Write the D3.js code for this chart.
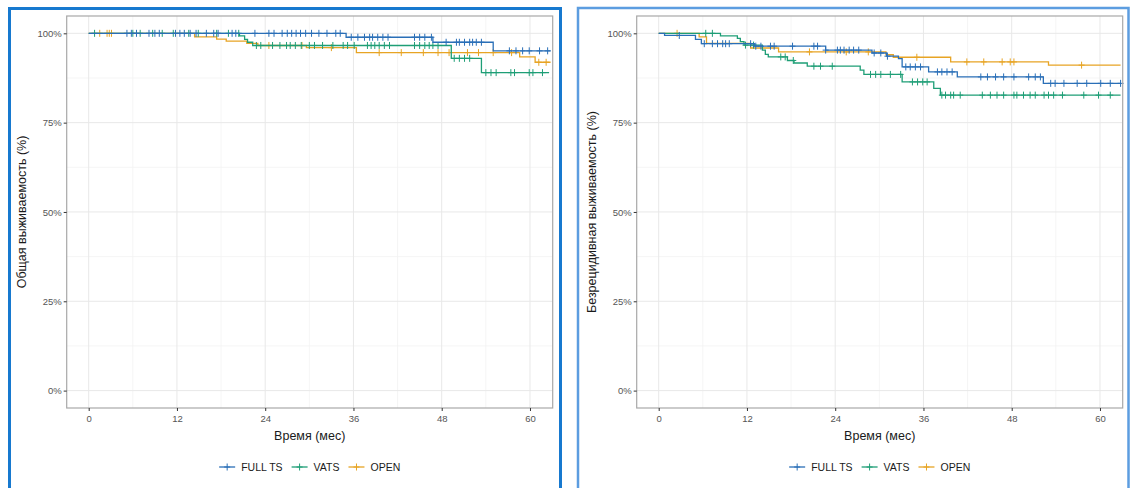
<!DOCTYPE html>
<html>
<head>
<meta charset="utf-8">
<script src="https://cdn.jsdelivr.net/npm/d3@7"></script>
<style>
  html, body { margin: 0; padding: 0; background: #ffffff; }
  svg { display: block; }
</style>
</head>
<body>
<svg id="chart" width="1132" height="488"></svg>
<script>
// ---- data -------------------------------------------------------------
const groups = ["FULL TS", "VATS", "OPEN"];
const timeTicks = [0, 12, 24, 36, 48, 60];
const pctTicks = [0, 25, 50, 75, 100];
const pctTickLabels = ["0%", "25%", "50%", "75%", "100%"];

// Overall survival: [time (months), survival %] at each step
const osFullTsSteps = [[0, 100], [35.0, 98.9], [46.8, 97.5], [55.0, 95.1]];
const osVatsSteps = [[0, 100], [20.5, 99.3], [21.2, 98.3], [21.6, 97.5], [22.3, 96.6], [49.3, 93.0], [53.4, 89.0]];
const osOpenSteps = [[0, 100], [14.4, 99.0], [17.4, 98.4], [18.7, 97.8], [21.5, 97.2], [23.0, 96.6], [29.6, 96.0], [36.4, 94.6], [58.6, 93.4], [60.7, 91.9]];
const osEnd = [62.8, 62.6, 62.8];

// Overall survival: censoring times
const osFullTsCensor = [5.2, 5.8, 6.5, 8.2, 9.0, 9.6, 11.8, 12.4, 13.0, 13.8, 14.6, 16.0, 17.0, 17.6, 19.5, 20.0, 22.6, 24.5, 25.2, 26.3, 27.0, 27.6, 28.2, 28.8, 29.5, 30.3, 31.3, 32.4, 33.6, 34.2,
  35.7, 36.6, 37.5, 38.2, 38.6, 39.3, 40.0, 40.7, 44.3, 45.0, 45.7, 46.6, 48.6, 50.0, 50.4, 51.1, 51.8, 52.2, 52.7, 53.4, 57.2, 58.1, 59.0, 59.9, 61.3, 62.4];
const osVatsCensor = [0.8, 6.0, 7.0, 8.7, 10.0, 11.5, 13.6, 14.9, 17.4, 19.0, 20.4, 22.8, 23.4, 25.0, 26.0, 26.9, 27.4, 28.1, 28.9, 30.0, 30.7, 31.8, 33.2, 34.6, 35.2, 36.1, 37.9, 38.4, 38.9, 39.5, 40.2, 40.9,
  44.3, 45.0, 45.7, 46.3, 46.8, 47.5, 49.7, 50.4, 51.1, 51.8, 54.0, 54.7, 55.4, 57.4, 57.9, 59.9, 60.4, 61.7];
const osOpenCensor = [1.5, 2.5, 2.8, 3.1, 24.5, 29.0, 33.0, 39.5, 42.5, 45.5, 47.5, 49.0, 51.5, 53.0, 55.0, 57.5, 61.2, 62.2];

// Recurrence-free survival: [time (months), survival %] at each step
const rfsFullTsSteps = [[0, 100], [0.8, 99.4], [5.0, 98.3], [5.8, 97.1], [13.0, 96.4], [22.7, 95.3], [29.0, 94.5], [31.0, 93.6], [32.6, 92.9], [33.1, 90.6], [36.7, 89.2], [40.6, 87.8], [52.3, 86.0]];
const rfsVatsSteps = [[0, 100], [8.4, 99.3], [10.7, 98.6], [11.1, 97.7], [11.6, 96.7], [14.1, 95.3], [14.5, 94.1], [14.9, 93.4], [17.5, 92.4], [18.4, 91.7], [20.2, 90.8], [27.4, 89.7], [27.9, 88.5], [33.1, 86.4], [37.4, 84.6], [38.3, 82.7]];
const rfsOpenSteps = [[0, 100], [5.5, 99.0], [6.5, 97.2], [12.5, 95.9], [16.3, 94.8], [30.9, 94.0], [31.9, 93.3], [39.7, 92.0], [53.0, 91.1]];
const rfsEnd = [62.8, 62.8, 62.8];

// Recurrence-free survival: censoring times
const rfsFullTsCensor = [2.8, 6.2, 7.3, 8.0, 8.7, 9.1, 9.6, 12.5, 13.2, 13.9, 15.2, 15.7, 18.2, 21.1, 21.6, 22.7, 24.3, 24.7, 25.2, 25.9, 26.5, 27.2, 29.3, 30.2, 31.1,
  33.6, 34.2, 34.9, 35.6, 37.9, 38.5, 39.2, 39.9, 43.8, 44.7, 45.8, 46.9, 48.3, 50.3, 51.2, 51.9, 53.3, 53.9, 55.1, 56.9, 58.2, 60.1, 61.4, 62.8];
const rfsVatsCensor = [6.4, 7.3, 11.8, 12.9, 16.6, 17.2, 18.3, 21.1, 22.0, 23.6, 28.8, 29.5, 30.2, 31.5, 32.9, 34.5, 35.2, 35.9, 36.5,
  38.5, 39.0, 39.7, 40.1, 41.0, 44.0, 45.1, 46.0, 46.9, 48.3, 48.7, 49.6, 50.5, 51.2, 52.4, 53.0, 53.7, 54.9, 57.8, 59.8, 61.4];
const rfsOpenCensor = [2.5, 20.5, 25.5, 28.5, 35.1, 41.9, 44.2, 46.7, 47.8, 48.3, 57.5];

// ---- styling ----------------------------------------------------------
const colors = { "FULL TS": "#2a6fb7", "VATS": "#1e9e76", "OPEN": "#e7a424" };
const font = "'Liberation Sans', Arial, Helvetica, sans-serif";

const svg = d3.select("#chart");

// framed boxes around the two figures
svg.append("rect")
  .attr("x", 9.5).attr("y", 8.5).attr("width", 551).attr("height", 500)
  .attr("fill", "none").attr("stroke", "#1779cf").attr("stroke-width", 3);
svg.append("rect")
  .attr("x", 578).attr("y", 8).attr("width", 550.5).attr("height", 500)
  .attr("fill", "none").attr("stroke", "#5c9de0").attr("stroke-width", 2.5);

function survAt(steps, t) {
  let s = steps[0][1];
  for (const [ti, si] of steps) { if (ti <= t) s = si; else break; }
  return s;
}

function drawPanel(offsetX, yTitle, series) {
  const left = 66.7 + offsetX, right = 552.7 + offsetX, top = 16, bottom = 408;
  const x = d3.scaleLinear().domain([-2.99, 63.09]).range([left, right]);
  const y = d3.scaleLinear().domain([-4.87, 104.85]).range([bottom, top]);
  const g = svg.append("g");

  // minor grid
  const minorX = timeTicks.slice(0, -1).map((d, i) => (d + timeTicks[i + 1]) / 2);
  const minorY = pctTicks.slice(0, -1).map((d, i) => (d + pctTicks[i + 1]) / 2);
  g.selectAll(".gx-minor").data(minorX).join("line")
    .attr("x1", d => x(d)).attr("x2", d => x(d)).attr("y1", top).attr("y2", bottom)
    .attr("stroke", "#f3f3f3").attr("stroke-width", 0.8);
  g.selectAll(".gy-minor").data(minorY).join("line")
    .attr("y1", d => y(d)).attr("y2", d => y(d)).attr("x1", left).attr("x2", right)
    .attr("stroke", "#f3f3f3").attr("stroke-width", 0.8);
  // major grid
  g.selectAll(".gx").data(timeTicks).join("line")
    .attr("x1", d => x(d)).attr("x2", d => x(d)).attr("y1", top).attr("y2", bottom)
    .attr("stroke", "#e8e8e8").attr("stroke-width", 1);
  g.selectAll(".gy").data(pctTicks).join("line")
    .attr("y1", d => y(d)).attr("y2", d => y(d)).attr("x1", left).attr("x2", right)
    .attr("stroke", "#e8e8e8").attr("stroke-width", 1);

  // survival curves
  const line = d3.line().x(d => x(d[0])).y(d => y(d[1])).curve(d3.curveStepAfter);
  const order = [2, 1, 0];
  order.forEach(i => {
    const s = series[i];
    const pts = s.steps.concat([[s.end, s.steps[s.steps.length - 1][1]]]);
    g.append("path").datum(pts)
      .attr("d", line).attr("fill", "none")
      .attr("stroke", colors[groups[i]]).attr("stroke-width", 1.3);
    g.selectAll(null).data(s.censor).join("path")
      .attr("d", t => {
        const cx = x(t), cy = y(survAt(s.steps, t));
        return `M${cx - 3},${cy}H${cx + 3}M${cx},${cy - 3.5}V${cy + 3.5}`;
      })
      .attr("stroke", colors[groups[i]]).attr("stroke-width", 1).attr("fill", "none");
  });

  // panel border
  g.append("rect").attr("x", left).attr("y", top)
    .attr("width", right - left).attr("height", bottom - top)
    .attr("fill", "none").attr("stroke", "#a8a8a8").attr("stroke-width", 1.2);

  // axes
  const xAxis = d3.axisBottom(x).tickValues(timeTicks).tickSize(3).tickPadding(4);
  const ax = g.append("g").attr("transform", `translate(0,${bottom})`).call(xAxis);
  const yAxis = d3.axisLeft(y).tickValues(pctTicks).tickSize(3).tickPadding(2)
    .tickFormat((d, i) => pctTickLabels[i]);
  const ay = g.append("g").attr("transform", `translate(${left},0)`).call(yAxis);
  [ax, ay].forEach(a => {
    a.select(".domain").remove();
    a.selectAll(".tick line").attr("stroke", "#333333").attr("stroke-width", 1);
    a.selectAll(".tick text").attr("fill", "#555555")
      .attr("font-family", font).attr("font-size", 9.5);
  });

  const cx = (left + right) / 2;
  g.append("text").attr("x", cx).attr("y", 440)
    .attr("text-anchor", "middle").attr("font-family", font).attr("font-size", 12.5)
    .attr("fill", "#1a1a1a").text("Время (мес)");
  g.append("text")
    .attr("transform", `translate(${offsetX + 26},${(top + bottom) / 2}) rotate(-90)`)
    .attr("text-anchor", "middle").attr("font-family", font).attr("font-size", 12.5)
    .attr("fill", "#1a1a1a").text(yTitle);

  // legend
  const lg = g.append("g").attr("transform", `translate(0,467)`);
  const items = [];
  let pos = 0;
  groups.forEach((name, i) => {
    const it = lg.append("g");
    it.append("line").attr("x1", 0).attr("x2", 16).attr("y1", 0).attr("y2", 0)
      .attr("stroke", colors[name]).attr("stroke-width", 1.3);
    it.append("path").attr("d", "M8,-3.5V3.5M5,0H11")
      .attr("stroke", colors[name]).attr("stroke-width", 1);
    const tx = it.append("text").attr("x", 22).attr("y", 0).attr("dy", "0.35em")
      .attr("font-family", font).attr("font-size", 10.5).attr("fill", "#1a1a1a").text(name);
    const w = 22 + tx.node().getComputedTextLength();
    items.push({ it, pos });
    pos += w + 9;
  });
  const total = pos - 9;
  items.forEach(d => d.it.attr("transform", `translate(${cx - total / 2 + d.pos},0)`));
}

drawPanel(0, "Общая выживаемость (%)", [
  { steps: osFullTsSteps, censor: osFullTsCensor, end: osEnd[0] },
  { steps: osVatsSteps, censor: osVatsCensor, end: osEnd[1] },
  { steps: osOpenSteps, censor: osOpenCensor, end: osEnd[2] }
]);
drawPanel(570, "Безрецидивная выживаемость (%)", [
  { steps: rfsFullTsSteps, censor: rfsFullTsCensor, end: rfsEnd[0] },
  { steps: rfsVatsSteps, censor: rfsVatsCensor, end: rfsEnd[1] },
  { steps: rfsOpenSteps, censor: rfsOpenCensor, end: rfsEnd[2] }
]);
</script>
</body>
</html>
